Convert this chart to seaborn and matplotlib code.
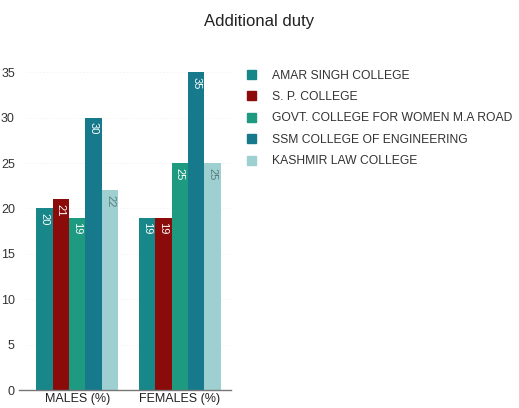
import matplotlib
matplotlib.use("Agg")
import matplotlib.pyplot as plt
import seaborn as sns
import pandas as pd

# Survey shares (%) of staff reporting an additional duty
groups = ["MALES (%)", "FEMALES (%)"]
colleges = [
    "AMAR SINGH COLLEGE",
    "S. P. COLLEGE",
    "GOVT. COLLEGE FOR WOMEN M.A ROAD",
    "SSM COLLEGE OF ENGINEERING",
    "KASHMIR LAW COLLEGE",
]
males = [20, 21, 19, 30, 22]
females = [19, 19, 25, 35, 25]
colors = ["#17878a", "#8b0a0a", "#1e9a80", "#177a8c", "#9fd0d1"]
label_colors = ["white", "white", "white", "white", "#5a7a7c"]
yticks = [0, 5, 10, 15, 20, 25, 30, 35]

rows = []
for c, m, f in zip(colleges, males, females):
    rows.append({"group": groups[0], "college": c, "value": m})
    rows.append({"group": groups[1], "college": c, "value": f})
df = pd.DataFrame(rows)

sns.set_theme(style="white")
plt.rcParams["font.family"] = ["Liberation Sans", "DejaVu Sans"]

fig = plt.figure(figsize=(5.19, 4.08), dpi=100)
ax = fig.add_axes([0.05, 0.044, 0.395, 0.79])

sns.barplot(data=df, x="group", y="value", hue="college", order=groups,
            hue_order=colleges, palette=colors, width=0.8, saturation=1,
            linewidth=0, ax=ax, legend=False)

# value labels inside the bar tops
for container, lc in zip(ax.containers, label_colors):
    for bar in container:
        h = bar.get_height()
        ax.text(bar.get_x() + bar.get_width() / 2, h - 0.5, f"{h:g}",
                rotation=-90, ha="center", va="top", fontsize=8, color=lc)

ax.set_ylim(0, 35.5)
ax.set_yticks(yticks)
ax.set_xlim(-0.5, 1.5)
ax.set_xlabel("")
ax.set_ylabel("")
ax.tick_params(axis="y", labelsize=9, colors="#333333", length=0, pad=8)
ax.tick_params(axis="x", labelsize=9, colors="#222222", length=0, pad=2)
ax.yaxis.grid(True, color="#f4f4f4", linewidth=0.6, linestyle=(0, (2, 2)))
for s in ["top", "right", "left"]:
    ax.spines[s].set_visible(False)
ax.spines["bottom"].set_color("#777777")
ax.spines["bottom"].set_linewidth(1.0)
ax.spines["bottom"].set_bounds(-0.57, 1.5)

fig.text(0.5, 0.948, "Additional duty", ha="center", va="center",
         fontsize=12, color="#222222")

# legend on the right
handles = [plt.Rectangle((0, 0), 1, 1, color=c) for c in colors]
fig.legend(handles, colleges, loc="upper left", bbox_to_anchor=(0.455, 0.856),
           frameon=False, fontsize=8.7, handlelength=0.75, handleheight=0.75,
           handletextpad=1.3, labelspacing=0.78, labelcolor="#333333")

fig.savefig("out.png", dpi=100)
